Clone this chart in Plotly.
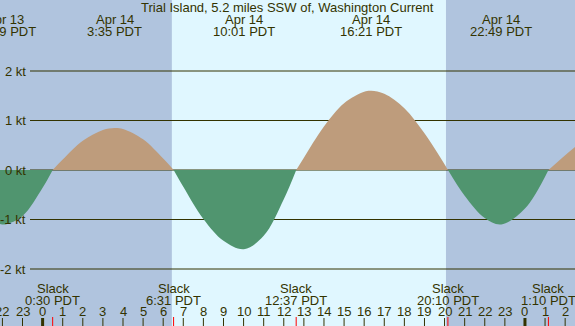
import plotly.graph_objects as go

# ---- data (hours relative to Apr 14 00:00 PDT, knots) ----
times = [-2.12, -1.85, -1, 0, 0.5, 1, 2, 3, 3.58, 4, 5, 6, 6.52, 7, 8, 9, 10.02, 11, 12, 12.62,
         13, 14, 15, 16, 16.35, 17, 18, 19, 20.17, 21, 22, 22.82, 24, 25.17, 26, 26.5]
speeds = [-1.09, -1.10, -0.93, -0.36, 0.0, 0.21, 0.59, 0.81, 0.85, 0.83, 0.62, 0.23, 0.0, -0.34, -0.99,
          -1.43, -1.60, -1.33, -0.59, 0.0, 0.25, 0.88, 1.35, 1.58, 1.60, 1.54, 1.25, 0.74, 0.0, -0.52,
          -0.97, -1.10, -0.78, 0.0, 0.30, 0.47]

event_times = [-1.85, 3.583, 10.017, 16.35, 22.817]
event_dates = ["Apr 13", "Apr 14", "Apr 14", "Apr 14", "Apr 14"]
event_labels = ["22:09 PDT", "3:35 PDT", "10:01 PDT", "16:21 PDT", "22:49 PDT"]

slack_times = [0.5, 6.517, 12.617, 20.167, 25.167]
slack_labels = ["0:30 PDT", "6:31 PDT", "12:37 PDT", "20:10 PDT", "1:10 PDT"]

sunrise = 6.43
sunset = 20.07

kt_levels = [2, 1, 0, -1, -2]
kt_labels = ["2 kt", "1 kt", "0 kt", "-1 kt", "-2 kt"]

hour_ticks = list(range(-2, 27))

title = "Trial Island, 5.2 miles SSW of, Washington Current"

# ---- styling ----
W, H = 575, 326
XR = [-2.12, 26.49]
YR = [-156 / 49.5, 170 / 49.5]
TXT = "#333300"
FONT = "Liberation Sans"
NIGHT = "#B0C4DE"
DAY = "#E0F7FF"
POS = "#BE9C7C"
NEG = "#50956F"


def py(pix):
    return 1 - pix / H


fig = go.Figure()

# split into lobes at zero crossings
lobes = []
cur_x, cur_y = [], []
for t, v in zip(times, speeds):
    cur_x.append(t)
    cur_y.append(v)
    if v == 0 and len(cur_x) > 1:
        lobes.append((cur_x, cur_y))
        cur_x, cur_y = [t], [v]
if len(cur_x) > 1:
    lobes.append((cur_x, cur_y))

for lx, ly in lobes:
    sign = sum(ly)
    col = POS if sign > 0 else NEG
    fig.add_trace(go.Scatter(x=lx, y=ly, mode="lines", line=dict(shape="spline", width=0, color=col),
                             fill="tozeroy", fillcolor=col, hoverinfo="skip", showlegend=False))

shapes = []
# daylight band
shapes.append(dict(type="rect", xref="x", yref="paper", x0=sunrise, x1=sunset, y0=0, y1=1,
                   fillcolor=DAY, line=dict(width=0), layer="below"))
# grid lines
for lv in kt_levels:
    shapes.append(dict(type="line", xref="paper", yref="y", x0=30 / W, x1=1, y0=lv, y1=lv,
                       line=dict(color=TXT, width=1), layer="below"))
# hour ticks
for h in hour_ticks:
    wdt = 3 if h % 24 == 0 else 1
    shapes.append(dict(type="line", xref="x", yref="paper", x0=h, x1=h, y0=py(326), y1=py(318),
                       line=dict(color=TXT, width=wdt)))
# slack ticks
for s in slack_times:
    shapes.append(dict(type="line", xref="x", yref="paper", x0=s, x1=s, y0=py(326), y1=py(317),
                       line=dict(color="red", width=1)))

ann = []
fnt = dict(family=FONT, size=13, color=TXT)
ann.append(dict(text=title, xref="paper", yref="paper", x=0.5, y=py(8), showarrow=False,
                font=fnt, xanchor="center", yanchor="middle"))
for t, d, l in zip(event_times, event_dates, event_labels):
    ann.append(dict(text=d, xref="x", yref="paper", x=t, y=py(20), showarrow=False, font=fnt,
                    xanchor="center", yanchor="middle"))
    ann.append(dict(text=l, xref="x", yref="paper", x=t, y=py(32), showarrow=False, font=fnt,
                    xanchor="center", yanchor="middle"))
for s, l in zip(slack_times, slack_labels):
    ann.append(dict(text="Slack", xref="x", yref="paper", x=s, y=py(288), showarrow=False, font=fnt,
                    xanchor="center", yanchor="middle"))
    ann.append(dict(text=l, xref="x", yref="paper", x=s, y=py(300), showarrow=False, font=fnt,
                    xanchor="center", yanchor="middle"))
for h in hour_ticks:
    ann.append(dict(text=str(h % 24), xref="x", yref="paper", x=h, y=py(311), showarrow=False,
                    font=fnt, xanchor="center", yanchor="middle"))
for lv, lb in zip(kt_levels, kt_labels):
    ann.append(dict(text=lb, xref="paper", yref="y", x=28 / W, y=lv, showarrow=False, font=fnt,
                    xanchor="right", yanchor="middle"))

fig.update_layout(
    width=W, height=H, margin=dict(l=0, r=0, t=0, b=0),
    paper_bgcolor=NIGHT, plot_bgcolor=NIGHT,
    xaxis=dict(range=XR, visible=False, fixedrange=True),
    yaxis=dict(range=YR, visible=False, fixedrange=True),
    shapes=shapes, annotations=ann, showlegend=False,
)

fig.write_html("out.html", config={"displayModeBar": False},
               post_script="document.body.style.margin='0';document.body.style.overflow='hidden';")
